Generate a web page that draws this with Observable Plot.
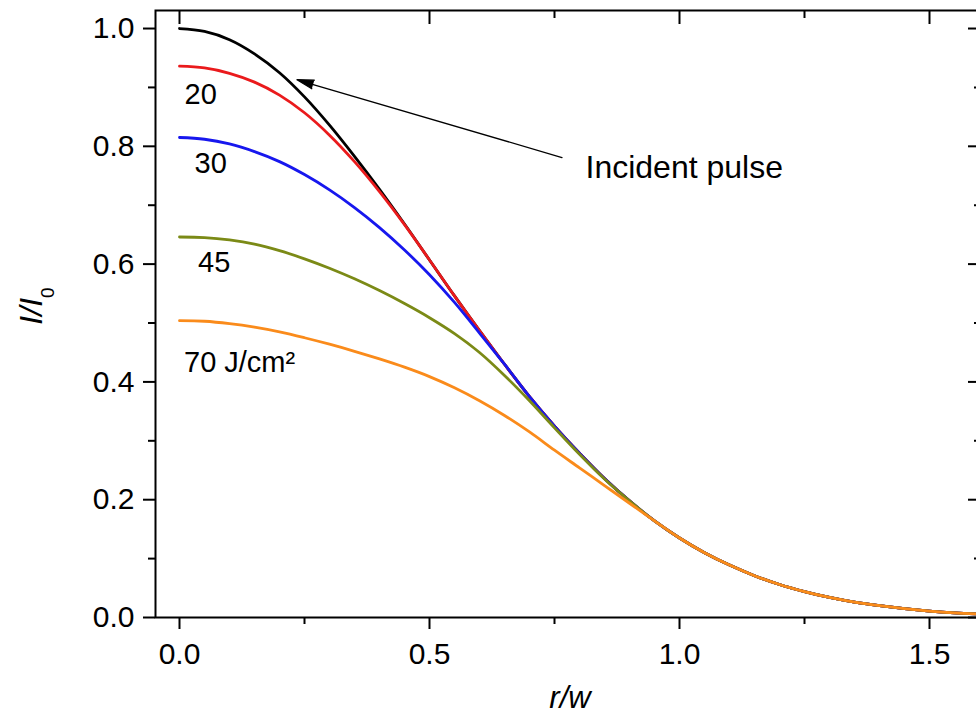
<!DOCTYPE html>
<html>
<head>
<meta charset="utf-8">
<script src="https://cdn.jsdelivr.net/npm/d3@7"></script>
<script src="https://cdn.jsdelivr.net/npm/@observablehq/plot@0.6"></script>
<style>
html, body { margin: 0; padding: 0; background: #fff; overflow: hidden; }
</style>
</head>
<body>
<div id="chart"></div>
<script>
// ---- data ----
const rw = [0,0.05,0.1,0.15,0.2,0.25,0.3,0.35,0.4,0.45,0.5,0.55,0.6,0.65,0.7,0.75,0.8,0.85,0.9,0.95,1.0,1.05,1.1,1.15,1.2,1.25,1.3,1.35,1.4,1.45,1.5,1.55,1.6];

const incident = [1.000,0.995,0.981,0.957,0.925,0.884,0.836,0.783,0.727,0.668,0.607,0.546,0.487,0.430,0.375,0.325,0.279,0.236,0.198,0.164,0.135,0.110,0.089,0.071,0.056,0.044,0.034,0.026,0.020,0.015,0.011,0.008,0.006];
const f20 = [0.936,0.933,0.924,0.909,0.887,0.857,0.819,0.774,0.723,0.667,0.607,0.546,0.487,0.430,0.375,0.325,0.279,0.236,0.198,0.164,0.135,0.110,0.089,0.071,0.056,0.044,0.034,0.026,0.020,0.015,0.011,0.008,0.006];
const f30 = [0.815,0.812,0.804,0.791,0.774,0.752,0.726,0.696,0.662,0.624,0.582,0.535,0.483,0.430,0.375,0.325,0.279,0.236,0.198,0.164,0.135,0.110,0.089,0.071,0.056,0.044,0.034,0.026,0.020,0.015,0.011,0.008,0.006];
const f45 = [0.646,0.645,0.641,0.634,0.623,0.609,0.593,0.575,0.555,0.533,0.509,0.482,0.450,0.411,0.368,0.322,0.277,0.235,0.198,0.164,0.135,0.110,0.089,0.071,0.056,0.044,0.034,0.026,0.020,0.015,0.011,0.008,0.006];
const f70 = [0.504,0.503,0.499,0.493,0.485,0.475,0.464,0.452,0.439,0.425,0.409,0.390,0.368,0.343,0.315,0.284,0.254,0.224,0.194,0.164,0.135,0.110,0.089,0.071,0.056,0.044,0.034,0.026,0.020,0.015,0.011,0.008,0.006];

const seriesNames = ["Incident pulse", "20", "30", "45", "70 J/cm²"];
const seriesColors = ["#000000", "#ea1a1c", "#1717ee", "#7b8a16", "#fa8b1b"];
const seriesValues = [incident, f20, f30, f45, f70];

const majorX = [0, 0.5, 1.0, 1.5];
const minorX = [0.25, 0.75, 1.25];
const majorY = [0, 0.2, 0.4, 0.6, 0.8, 1.0];
const minorY = [0.1, 0.3, 0.5, 0.7, 0.9];

// annotations (data coordinates)
const curveLabels = [
  {text: "20", r: 0.010, v: 0.888},
  {text: "30", r: 0.030, v: 0.770},
  {text: "45", r: 0.037, v: 0.602},
  {text: "70 J/cm²", r: 0.009, v: 0.432}
];
const arrowAnno = [{r1: 0.765, v1: 0.781, r2: 0.235, v2: 0.913}];
const incidentLabel = [{text: "Incident pulse", r: 0.812, v: 0.763}];

// ---- table for the library ----
const table = seriesNames.flatMap((s, i) => rw.map((r, j) => ({r, v: seriesValues[i][j], series: s})));

const font = "Liberation Sans, Arial, Helvetica, sans-serif";
const fmt = d3.format(".1f");

const chart = Plot.plot({
  width: 976,
  height: 717,
  marginLeft: 155,
  marginRight: -4,
  marginTop: 10,
  marginBottom: 100,
  style: {fontFamily: font, fontSize: "30px", background: "white", color: "black"},
  x: {domain: [-0.048, 1.602]},
  y: {domain: [0, 1.0306]},
  color: {domain: seriesNames, range: seriesColors},
  marks: [
    Plot.line(table, {x: "r", y: "v", z: "series", stroke: "series", strokeWidth: 2.8, curve: "catmull-rom"}),
    Plot.frame({stroke: "black", strokeWidth: 2}),
    Plot.axisX(majorX, {anchor: "bottom", tickSize: 12, tickPadding: 13, tickFormat: fmt, fontSize: 30, strokeWidth: 2, label: null}),
    Plot.axisX(minorX, {anchor: "bottom", tickSize: 7, strokeWidth: 2, fill: "none", label: null}),
    Plot.axisX(majorX, {anchor: "top", tickSize: -13, strokeWidth: 2, fill: "none", label: null}),
    Plot.axisX(minorX, {anchor: "top", tickSize: -7, strokeWidth: 2, fill: "none", label: null}),
    Plot.axisY(majorY, {anchor: "left", tickSize: 12, tickPadding: 9, tickFormat: fmt, fontSize: 30, strokeWidth: 2, label: null}),
    Plot.axisY(minorY, {anchor: "left", tickSize: 7, strokeWidth: 2, fill: "none", label: null}),
    Plot.axisY(majorY, {anchor: "right", tickSize: -13, strokeWidth: 2, fill: "none", label: null}),
    Plot.axisY(minorY, {anchor: "right", tickSize: -7, strokeWidth: 2, fill: "none", label: null}),
    Plot.text(curveLabels, {x: "r", y: "v", text: "text", textAnchor: "start", fontSize: 29, fill: "black"}),
    Plot.text(incidentLabel, {x: "r", y: "v", text: "text", textAnchor: "start", fontSize: 32, fill: "black"}),
    Plot.arrow(arrowAnno, {x1: "r1", y1: "v1", x2: "r2", y2: "v2", stroke: "black", fill: "black", strokeWidth: 1.3, headLength: 20, headAngle: 30}),
    Plot.text(["r/w"], {text: d => d, frameAnchor: "bottom", lineAnchor: "middle", dy: 81, dx: 2, fontSize: 31, fontStyle: "italic", fill: "black"})
  ]
});

document.getElementById("chart").appendChild(chart);

// y-axis title with a subscript
const svg = d3.select(chart);
const t = svg.append("text")
  .attr("transform", "translate(42,306) rotate(-90)")
  .attr("text-anchor", "middle")
  .attr("font-family", font)
  .attr("font-size", 32)
  .attr("font-style", "italic")
  .attr("fill", "black");
t.append("tspan").text("I/I");
t.append("tspan").attr("font-size", 19).attr("font-style", "normal").attr("dy", 12).text("0");
</script>
</body>
</html>
